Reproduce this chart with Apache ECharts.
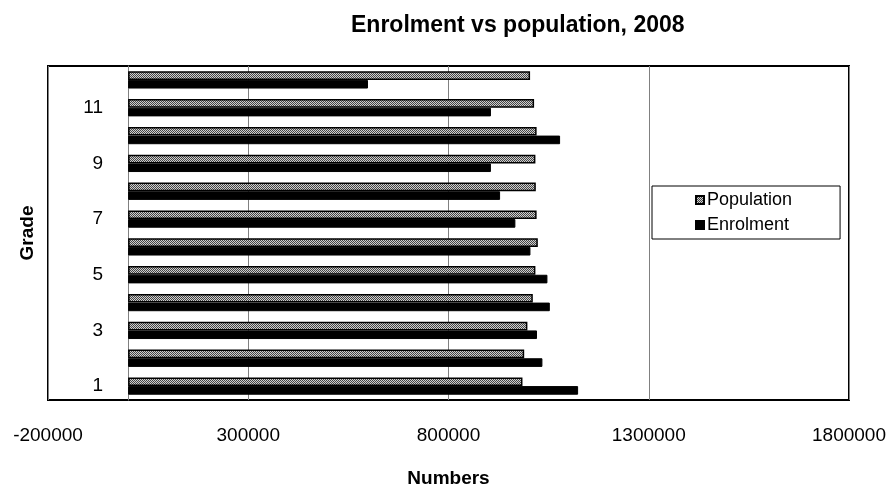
<!DOCTYPE html>
<html>
<head>
<meta charset="utf-8">
<style>
html,body{margin:0;padding:0;background:#fff;}
#chart{width:891px;height:490px;}
</style>
<script src="https://cdn.jsdelivr.net/npm/echarts@6/dist/echarts.min.js"></script>
</head>
<body>
<div id="chart"></div>
<script>
const grades = ['1','2','3','4','5','6','7','8','9','10','11','12'];
const population = [984700, 989000, 997000, 1010500, 1017000, 1023000, 1020000, 1018000, 1017000, 1020000, 1013700, 1003700];
const enrolment = [1123600, 1034500, 1021000, 1053000, 1047000, 1004600, 967000, 928800, 906000, 1078600, 906000, 599000];
const xTicks = [-200000, 300000, 800000, 1300000, 1800000];

const FONT = '"Liberation Sans", Arial, sans-serif';

function makePattern() {
  const c = document.createElement('canvas');
  c.width = 4; c.height = 4;
  const ctx = c.getContext('2d');
  ctx.fillStyle = '#cfcfcf';
  ctx.fillRect(0, 0, 4, 4);
  ctx.fillStyle = '#444444';
  for (let y = 0; y < 4; y++) {
    for (let x = 0; x < 4; x++) {
      if ((x + y) % 2 === 0) ctx.fillRect(x, y, 1, 1);
    }
  }
  return c;
}
const pattern = { image: makePattern(), repeat: 'repeat' };

const chart = echarts.init(document.getElementById('chart'), null, { renderer: 'canvas' });
chart.setOption({
  animation: false,
  backgroundColor: '#fff',
  title: {
    text: 'Enrolment vs population, 2008',
    left: 346,
    top: 9,
    textStyle: { fontFamily: FONT, fontSize: 23, fontWeight: 'bold', color: '#000' }
  },
  legend: {
    data: ['Population', 'Enrolment'],
    orient: 'vertical',
    left: 652,
    top: 186,
    padding: [5, 48, 5, 43],
    itemGap: 7,
    itemWidth: 8,
    itemHeight: 8,
    icon: 'rect',
    borderColor: '#000',
    borderWidth: 1,
    backgroundColor: '#fff',
    textStyle: { fontFamily: FONT, fontSize: 18, color: '#000', padding: [0, 0, 0, -2] }
  },
  grid: {
    left: 48, right: 42, top: 66, bottom: 90,
    containLabel: false,
    outerBoundsMode: 'none',
    show: true,
    borderColor: '#000',
    borderWidth: 2,
    backgroundColor: '#fff'
  },
  xAxis: {
    type: 'value',
    min: xTicks[0],
    max: xTicks[xTicks.length - 1],
    interval: 500000,
    name: 'Numbers',
    nameLocation: 'middle',
    nameGap: 69,
    nameTextStyle: { fontFamily: FONT, fontSize: 19, fontWeight: 'bold', color: '#000' },
    axisLine: { show: false },
    axisTick: { show: false },
    axisLabel: { fontFamily: FONT, fontSize: 19, color: '#000', margin: 26, formatter: function (v) { return String(v); } },
    splitLine: { show: true, lineStyle: { color: '#808080', width: 1 } }
  },
  yAxis: {
    type: 'category',
    data: grades,
    name: 'Grade',
    nameLocation: 'middle',
    nameRotate: 90,
    nameGap: 11,
    nameMoveOverlap: false,
    nameTextStyle: { fontFamily: FONT, fontSize: 19, fontWeight: 'bold', color: '#000' },
    axisLine: { show: true, onZero: true, lineStyle: { color: '#808080', width: 1 } },
    axisTick: { show: false },
    axisLabel: { interval: 1, fontFamily: FONT, fontSize: 19, color: '#000', margin: -55 },
    splitLine: { show: false }
  },
  series: [
    {
      name: 'Population',
      type: 'bar',
      data: population,
      barGap: '0%',
      barCategoryGap: '38%',
      itemStyle: { color: pattern, borderColor: '#000', borderWidth: 1.5 }
    },
    {
      name: 'Enrolment',
      type: 'bar',
      data: enrolment,
      barGap: '0%',
      barCategoryGap: '38%',
      itemStyle: { color: '#000', borderColor: '#000', borderWidth: 1 }
    }
  ]
});
</script>
</body>
</html>
